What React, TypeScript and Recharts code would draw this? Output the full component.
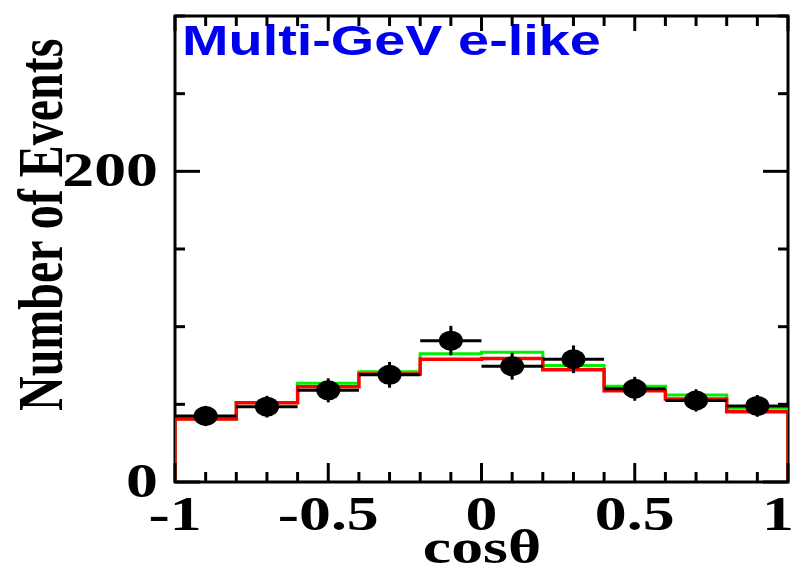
import { ComposedChart, Line, Scatter, ErrorBar, XAxis, YAxis, ReferenceArea, Customized } from 'recharts';

// bin edges and centres of cos(theta)
const edges = [-1, -0.8, -0.6, -0.4, -0.2, 0, 0.2, 0.4, 0.6, 0.8, 1];
const centres = [-0.9, -0.7, -0.5, -0.3, -0.1, 0.1, 0.3, 0.5, 0.7, 0.9];

// data points (black) and their errors
const dataVals = [42.5, 48.5, 59, 69, 91, 74.5, 79, 60, 52.5, 49];
const dataErr = [6.5, 7, 7.7, 8.3, 9.5, 8.6, 8.9, 7.7, 7.2, 7];

// MC histograms
const greenVals = [40.5, 51, 63.5, 71, 82.5, 83.5, 75, 61.6, 56, 47.5];
const redVals = [40.5, 51, 61.4, 69.6, 79, 79.5, 72.2, 58.7, 53.5, 45.2];

const xTicks = [-1, -0.9, -0.8, -0.7, -0.6, -0.5, -0.4, -0.3, -0.2, -0.1, 0, 0.1, 0.2, 0.3, 0.4, 0.5, 0.6, 0.7, 0.8, 0.9, 1];
const xLabels = [-1, -0.5, 0, 0.5, 1];
const yTicks = [0, 50, 100, 150, 200, 250, 300];
const yLabels = [0, 200];

const L = 175, R = 788, T = 16, B = 482;
const SX = 1.33; // the original picture is stretched sideways
const serif = '"Liberation Serif", "Times New Roman", serif';

const histo = (vals: number[]) => [
  { x: edges[0], y: 0 },
  ...vals.map((v, i) => ({ x: edges[i], y: v })),
  { x: edges[edges.length - 1], y: vals[vals.length - 1] },
  { x: edges[edges.length - 1], y: 0 },
];

const points = centres.map((c, i) => ({ x: c, y: dataVals[i], ex: 0.1, ey: dataErr[i] }));

const XTick = (props: any) => {
  const { x, payload } = props;
  const major = xLabels.includes(payload.value);
  // last label would run past the picture edge, keep it inside
  const last = payload.value === 1;
  return (
    <g>
      <line x1={x} x2={x} y1={B} y2={B - (major ? 19 : 10)} stroke="#000" strokeWidth={3} />
      <line x1={x} x2={x} y1={T} y2={T + (major ? 15 : 10)} stroke="#000" strokeWidth={3} />
      {major && (
        <text transform={`translate(${last ? 794 : x},530) scale(${SX},1)`} textAnchor={last ? 'end' : 'middle'}
          fontFamily={serif} fontWeight="bold" fontSize={48} fill="#000">
          {String(payload.value)}
        </text>
      )}
    </g>
  );
};

const YTick = (props: any) => {
  const { y, payload } = props;
  const major = yLabels.includes(payload.value);
  const len = major ? 25 : 10;
  return (
    <g>
      <line x1={L} x2={L + len} y1={y} y2={y} stroke="#000" strokeWidth={3} />
      <line x1={R} x2={R - len} y1={y} y2={y} stroke="#000" strokeWidth={3} />
      {major && (
        <text transform={`translate(158,${y + 15}) scale(${SX},1)`} textAnchor="end"
          fontFamily={serif} fontWeight="bold" fontSize={48} fill="#000">
          {String(payload.value)}
        </text>
      )}
    </g>
  );
};

const Texts = () => (
  <g>
    <text transform={`translate(182,55) scale(${SX},1)`} fontFamily='"Liberation Sans", Arial, sans-serif'
      fontWeight="bold" fontSize={42} fill="#0000f0">
      Multi-GeV e-like
    </text>
    <text transform={`translate(62,411) scale(${SX},1) rotate(-90)`} fontFamily={serif}
      fontWeight="bold" fontSize={48} fill="#000">
      Number of Events
    </text>
    <text transform={`translate(482,563) scale(${SX},1)`} textAnchor="middle" fontFamily={serif}
      fontWeight="bold" fontSize={48} fill="#000">
      cosθ
    </text>
  </g>
);

const Marker = (props: any) => <ellipse cx={props.cx} cy={props.cy} rx={12} ry={10} fill="#000" />;

export default function App() {
  return (
    <div style={{ position: 'absolute', left: 0, top: 0, background: '#fff' }}>
      <ComposedChart width={795} height={572} margin={{ top: T, right: 795 - R, bottom: 0, left: 0 }}>
        <XAxis dataKey="x" type="number" domain={[-1, 1]} ticks={xTicks} interval={0}
          height={90} axisLine={false} tickLine={false} tick={<XTick />} allowDataOverflow />
        <YAxis type="number" domain={[0, 300]} ticks={yTicks} interval={0} width={L}
          axisLine={false} tickLine={false} tick={<YTick />} allowDataOverflow />
        <ReferenceArea x1={-1} x2={1} y1={0} y2={300} fill="none" stroke="#000" strokeWidth={3} />
        <Line data={histo(greenVals)} dataKey="y" type="stepAfter" stroke="#00ee00" strokeWidth={3}
          dot={false} activeDot={false} isAnimationActive={false} />
        <Line data={histo(redVals)} dataKey="y" type="stepAfter" stroke="#ff0000" strokeWidth={3.5}
          dot={false} activeDot={false} isAnimationActive={false} />
        <Scatter data={points} dataKey="y" shape={<Marker />} isAnimationActive={false}>
          <ErrorBar dataKey="ex" direction="x" width={0} stroke="#000" strokeWidth={3} />
          <ErrorBar dataKey="ey" direction="y" width={0} stroke="#000" strokeWidth={3} />
        </Scatter>
        <Customized component={Texts} />
      </ComposedChart>
    </div>
  );
}
